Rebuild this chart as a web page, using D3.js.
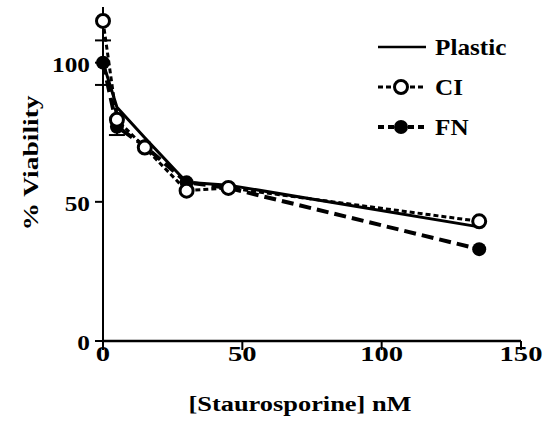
<!DOCTYPE html>
<html lang="en">
<head>
    <meta charset="UTF-8">
    <title>Staurosporine viability</title>
    <script src="https://d3js.org/d3.v7.min.js"></script>
    <style>
        body { margin: 0; background: #fff; }
        text { font-family: "Liberation Serif", "Times New Roman", serif; font-weight: bold; fill: #000; }
    </style>
</head>
<body>
    <svg width="552" height="430"></svg>
    <script>
        // data
        const dose = [0, 5, 15, 30, 45, 135];
        const plastic = [100, 84, 73, 57, 56, 41];
        const plasticErrUp = [8, 0, 0, 0, 0, 0];
        const plasticErrDown = [8, 10, 0, 0, 0, 0];
        const ci = [115, 79.5, 69.5, 54, 55, 43];
        const fn = [100, 77, 70, 57, 55, 33];
        const xTicks = [0, 50, 100, 150];
        const yTicks = [0, 50, 100];

        const svg = d3.select('svg');
        const x = d3.scaleLinear().domain([0, 150]).range([103, 521]);
        const y = d3.scaleLinear().domain([0, 120]).range([341, 7]);

        // text that is a bit wider than the normal serif bold
        function label(tx, ty, str, size, sx, anchor, rot) {
            return svg.append('text')
                .attr('transform', `translate(${tx},${ty})` + (rot ? ` rotate(${rot})` : '') + ` scale(${sx},1)`)
                .attr('text-anchor', anchor || 'start')
                .attr('font-size', size)
                .text(str);
        }

        // axes
        svg.append('line')
            .attr('x1', x(0)).attr('x2', x(0))
            .attr('y1', y(120)).attr('y2', y(0))
            .attr('stroke', '#000').attr('stroke-width', 2);
        svg.append('line')
            .attr('x1', x(0)).attr('x2', x(150))
            .attr('y1', y(0)).attr('y2', y(0))
            .attr('stroke', '#000').attr('stroke-width', 2.5);

        svg.selectAll('.xt').data(xTicks).enter().append('line')
            .attr('x1', d => x(d)).attr('x2', d => x(d))
            .attr('y1', y(0)).attr('y2', y(0) + 9)
            .attr('stroke', '#000').attr('stroke-width', 2);
        xTicks.forEach(d => label(x(d), 361, d, 22, 1.3, 'middle'));

        svg.selectAll('.yt').data(yTicks).enter().append('line')
            .attr('x1', x(0) - 8).attr('x2', x(0))
            .attr('y1', d => y(d)).attr('y2', d => y(d))
            .attr('stroke', '#000').attr('stroke-width', 2);
        yTicks.forEach(d => label(90, y(d) + 9, d, 22, 1.15, 'end'));

        label(300, 411, '[Staurosporine] nM', 22, 1.2, 'middle');
        label(38, 163, '% Viability', 22, 1.25, 'middle', -90);

        // error bars (plastic), only the halves that show
        const ebG = svg.append('g').attr('stroke', '#000').attr('stroke-width', 2);
        dose.forEach((d, i) => {
            const up = plasticErrUp[i], down = plasticErrDown[i];
            if (!up && !down) return;
            ebG.append('line')
                .attr('x1', x(d)).attr('x2', x(d))
                .attr('y1', y(plastic[i] + up)).attr('y2', y(plastic[i] - down));
            [up ? plastic[i] + up : null, down ? plastic[i] - down : null].forEach(v => {
                if (v == null) return;
                ebG.append('line')
                    .attr('x1', x(d) - 8).attr('x2', x(d) + 8)
                    .attr('y1', y(v)).attr('y2', y(v));
            });
        });

        const line = d3.line().x((d, i) => x(dose[i])).y(d => y(d));

        svg.append('path').datum(plastic).attr('d', line)
            .attr('fill', 'none').attr('stroke', '#000').attr('stroke-width', 3);
        svg.append('path').datum(ci).attr('d', line)
            .attr('fill', 'none').attr('stroke', '#000').attr('stroke-width', 3)
            .attr('stroke-dasharray', '5,3');
        svg.append('path').datum(fn).attr('d', line)
            .attr('fill', 'none').attr('stroke', '#000').attr('stroke-width', 4)
            .attr('stroke-dasharray', '12,6');

        svg.selectAll('.fn').data(fn).enter().append('circle')
            .attr('cx', (d, i) => x(dose[i])).attr('cy', d => y(d))
            .attr('r', 7).attr('fill', '#000');
        svg.selectAll('.ci').data(ci).enter().append('circle')
            .attr('cx', (d, i) => x(dose[i])).attr('cy', d => y(d))
            .attr('r', 6.5).attr('fill', '#fff')
            .attr('stroke', '#000').attr('stroke-width', 3);

        // legend
        const legend = [
            { name: 'Plastic', y: 47, dash: null, w: 2.5, marker: null },
            { name: 'CI', y: 87, dash: '5,3', w: 3, marker: 'open' },
            { name: 'FN', y: 127, dash: '6,4', w: 4, marker: 'filled' }
        ];
        legend.forEach(l => {
            svg.append('line')
                .attr('x1', 378).attr('x2', 426)
                .attr('y1', l.y).attr('y2', l.y)
                .attr('stroke', '#000').attr('stroke-width', l.w)
                .attr('stroke-dasharray', l.dash);
            if (l.marker === 'open') {
                svg.append('circle').attr('cx', 401).attr('cy', l.y).attr('r', 6.5)
                    .attr('fill', '#fff').attr('stroke', '#000').attr('stroke-width', 3);
            } else if (l.marker === 'filled') {
                svg.append('circle').attr('cx', 401).attr('cy', l.y).attr('r', 7).attr('fill', '#000');
            }
            label(435, l.y + 8, l.name, 24, 1.05);
        });
    </script>
</body>
</html>
